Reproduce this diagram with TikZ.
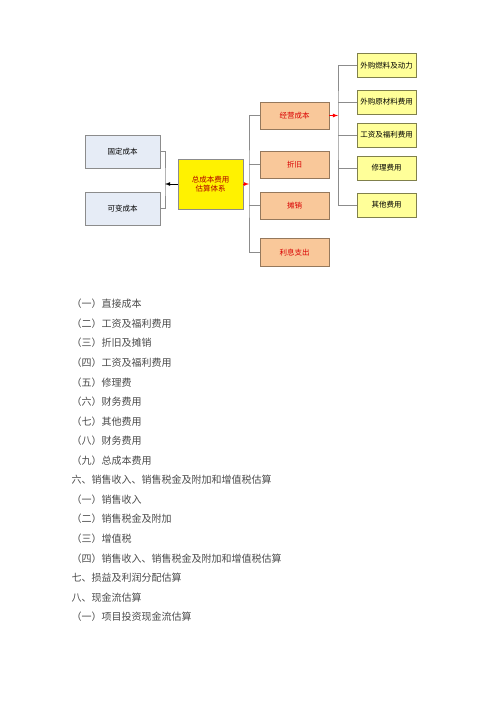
\documentclass[tikz,border=0pt]{standalone}
\usepackage{fontspec}
\setmainfont{Noto Sans CJK SC}
\usepackage{tikz}
\definecolor{bluebox}{HTML}{E6ECF6}
\definecolor{orangebox}{HTML}{F9C89A}
\definecolor{lemonbox}{HTML}{FFFF99}
\definecolor{edgegray}{HTML}{8C8C8C}
\definecolor{textgray}{HTML}{4A4A4A}
\tikzset{
  >=latex,
}
\tikzstyle{box}=[draw=edgegray,line width=0.9pt,inner sep=0pt,font=\fontsize{7.5}{9}\selectfont]
\tikzstyle{part}=[box,fill=bluebox,minimum width=75,minimum height=33]
\tikzstyle{total}=[box,fill=yellow,minimum width=65,minimum height=50,text=red!70!black,align=center]
\tikzstyle{item}=[box,fill=orangebox,draw=orangebox!60!black,minimum width=69,minimum height=27,text=red!85!black]
\tikzstyle{cost}=[box,fill=lemonbox,draw=lemonbox!50!black,minimum width=59,minimum height=24]
\tikzstyle{wire}=[edgegray,line width=0.8pt]
\tikzstyle{line}=[anchor=west,text=textgray,font=\fontsize{10}{12}\selectfont]

\begin{document}
\begin{tikzpicture}[x=1pt,y=-1pt]
    \useasboundingbox (0,0) rectangle (500,707);
    % chart
    \node[part] (fixed) at (122.5,151.5) {固定成本};
    \node[part] (varc) at (122.5,208.5) {可变成本};
    \node[total] (sum) at (210.5,184) {总成本费用\\估算体系};
    \node[item] (oper) at (294.5,115.5) {经营成本};
    \node[item] (depr) at (294.5,164.5) {折旧};
    \node[item] (amor) at (294.5,205.5) {摊销};
    \node[item,minimum height=28] (intr) at (294.5,252.5) {利息支出};
    \node[cost] (fuel) at (386.5,65.5) {外购燃料及动力};
    \node[cost] (raw) at (386.5,102) {外购原材料费用};
    \node[cost] (wage) at (386.5,135) {工资及福利费用};
    \node[cost] (rep) at (386.5,168) {修理费用};
    \node[cost] (other) at (386.5,205) {其他费用};
    \coordinate (busL) at (165,184);
    \coordinate (busR) at (249,184);
    \coordinate (busC) at (338,115.5);
    % left bracket
    \draw[wire] (fixed.east) -| (busL) |- (varc.east);
    \draw[wire,->,black] (sum.west) -- (busL);
    % middle bus
    \draw[wire,->,red] (sum.east) -- (busR);
    \draw[wire] (oper.west) -| (busR) |- (intr.west);
    \foreach \n in {depr,amor}
      \draw[wire] (\n.west) -- (\n.west -| busR);
    % right bus
    \draw[wire,->,red] (oper.east) -- (busC);
    \draw[wire] (fuel.west) -| (busC) |- (other.west);
    \foreach \n in {raw,wage,rep}
      \draw[wire] (\n.west) -- (\n.west -| busC);
    % text lines
    \foreach \t [count=\i from 0] in {（一）直接成本,（二）工资及福利费用,（三）折旧及摊销,
      （四）工资及福利费用,（五）修理费,（六）财务费用,（七）其他费用,（八）财务费用,
      （九）总成本费用,六、销售收入、销售税金及附加和增值税估算,（一）销售收入,
      （二）销售税金及附加,（三）增值税,（四）销售收入、销售税金及附加和增值税估算,
      七、损益及利润分配估算,八、现金流估算,（一）项目投资现金流估算}
      \node[line] (t\i) at (68,304+19.56*\i) {\t};
\end{tikzpicture}
\end{document}
